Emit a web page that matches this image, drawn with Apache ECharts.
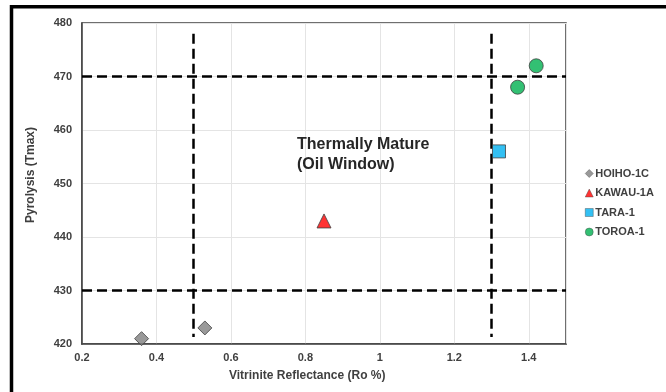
<!DOCTYPE html>
<html>
<head>
<meta charset="utf-8">
<script src="https://cdn.jsdelivr.net/npm/echarts@6/dist/echarts.min.js"></script>
<style>
  html, body { margin: 0; padding: 0; background: #fff; }
  #chart { width: 666px; height: 392px; }
</style>
</head>
<body>
<div id="chart"></div>
<script>
// Vitrinite reflectance (Ro %) vs pyrolysis Tmax, by well
const wellNames = ['HOIHO-1C', 'KAWAU-1A', 'TARA-1', 'TOROA-1'];
const hoihoRo = [0.36, 0.53];
const hoihoTmax = [421, 423];
const kawauRo = [0.85];
const kawauTmax = [443];
const taraRo = [1.32];
const taraTmax = [456];
const toroaRo = [1.37, 1.42];
const toroaTmax = [468, 472];

// Maturity window boundaries
const roLimits = [0.5, 1.3];
const tmaxLimits = [430, 470];
const roLineSpan = [421.3, 478];

const FONT = '"Liberation Sans", Arial, sans-serif';
const pairs = (xs, ys) => xs.map((x, i) => [x, ys[i]]);

const dashStyle = { color: '#000', width: 2.5, type: [10, 5] };
const windowLines = [];
roLimits.forEach(ro => windowLines.push([{ coord: [ro, roLineSpan[1]] }, { coord: [ro, roLineSpan[0]] }]));
tmaxLimits.forEach(t => windowLines.push([{ coord: [0.2, t] }, { coord: [1.5, t] }]));

const markerBorder = { borderColor: '#404040', borderWidth: 1 };

const chart = echarts.init(document.getElementById('chart'), null, { renderer: 'canvas' });
chart.setOption({
  animation: false,
  backgroundColor: '#fff',
  textStyle: { fontFamily: FONT },
  grid: {
    left: 82, top: 23, width: 484, height: 321,
    show: true, borderColor: '#404040', borderWidth: 1.5, backgroundColor: 'transparent'
  },
  xAxis: {
    type: 'value', min: 0.2, max: 1.5, interval: 0.2,
    axisLine: { show: true, lineStyle: { color: '#404040', width: 1.5 } },
    axisTick: { show: false },
    splitLine: { show: true, lineStyle: { color: '#e4e4e4', width: 1 } },
    axisLabel: { showMaxLabel: false, color: '#404040', fontSize: 11, fontWeight: 'bold', margin: 8, fontFamily: FONT }
  },
  yAxis: {
    type: 'value', min: 420, max: 480, interval: 10,
    axisLine: { show: true, lineStyle: { color: '#404040', width: 1.5 } },
    axisTick: { show: false },
    splitLine: { show: true, lineStyle: { color: '#e4e4e4', width: 1 } },
    axisLabel: { color: '#404040', fontSize: 11, fontWeight: 'bold', margin: 10, fontFamily: FONT }
  },
  legend: {
    orient: 'vertical', left: 580, top: 163, itemGap: 8.5,
    itemWidth: 8, itemHeight: 8, itemStyle: { borderWidth: 0.5 },
    textStyle: { color: '#404040', fontSize: 11, fontWeight: 'bold', fontFamily: FONT, padding: [0, 0, 0, -3] },
    data: wellNames
  },
  graphic: [
    { type: 'line', shape: { x1: 11.5, y1: 5, x2: 11.5, y2: 392 }, style: { stroke: '#000', lineWidth: 3.5 } },
    { type: 'line', shape: { x1: 10, y1: 6.75, x2: 666, y2: 6.75 }, style: { stroke: '#000', lineWidth: 3.5 } },
    { type: 'text', left: 297, top: 135, z: 10,
      style: { text: 'Thermally Mature\n(Oil Window)', font: 'bold 16px ' + FONT, fill: '#262626', lineHeight: 20 } },
    { type: 'text', left: 229, top: 370, z: 10,
      style: { text: 'Vitrinite Reflectance (Ro %)', font: 'bold 12px ' + FONT, fill: '#404040' } },
    { type: 'text', x: 25, y: 223, rotation: Math.PI / 2, z: 10,
      style: { text: 'Pyrolysis (Tmax)', font: 'bold 12px ' + FONT, fill: '#404040' } }
  ],
  series: [
    {
      name: wellNames[0], type: 'scatter', symbol: 'diamond', symbolSize: 14, z: 5,
      itemStyle: Object.assign({ color: '#808080' }, markerBorder),
      data: pairs(hoihoRo, hoihoTmax),
      markLine: { silent: true, symbol: 'none', label: { show: false }, lineStyle: dashStyle, data: windowLines, z: 3 }
    },
    {
      name: wellNames[1], type: 'scatter', symbol: 'triangle', symbolSize: 14, z: 5,
      itemStyle: Object.assign({ color: '#ff0000' }, markerBorder),
      data: pairs(kawauRo, kawauTmax)
    },
    {
      name: wellNames[2], type: 'scatter', symbol: 'rect', symbolSize: 13, z: 5,
      itemStyle: Object.assign({ color: '#00b0f0' }, markerBorder),
      data: pairs(taraRo, taraTmax)
    },
    {
      name: wellNames[3], type: 'scatter', symbol: 'circle', symbolSize: 14, z: 5,
      itemStyle: Object.assign({ color: '#00b050' }, markerBorder),
      data: pairs(toroaRo, toroaTmax)
    }
  ]
});
</script>
</body>
</html>
